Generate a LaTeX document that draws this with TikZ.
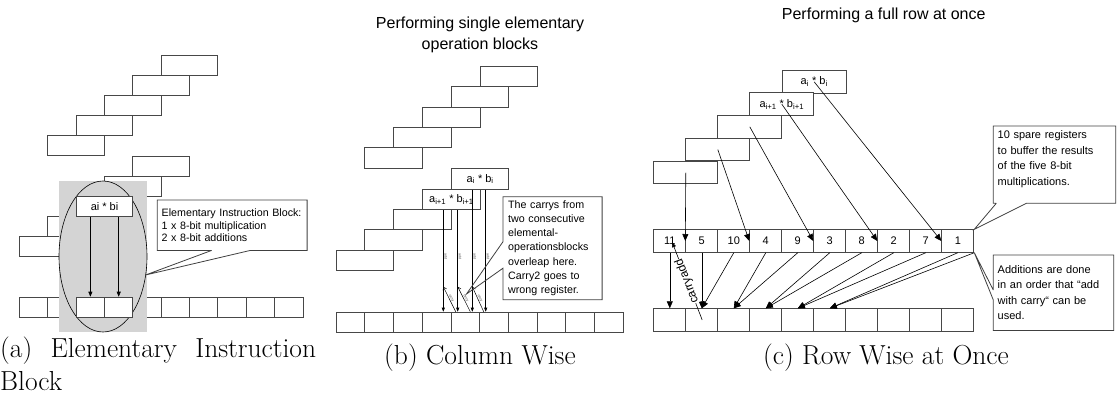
\documentclass[tikz,border=0pt]{standalone}
\usepackage{fontspec}
\newfontfamily\lab{Liberation Sans}
\usetikzlibrary{arrows.meta,calc}
\begin{document}
\begin{tikzpicture}[x=1pt,y=-1pt,
  box/.style={draw=black!72, line width=1pt, fill=white, inner sep=0pt, anchor=north west,
    font=\lab\fontsize{11}{12}\selectfont},
  boxa/.style={box, minimum width=56.7pt, minimum height=20pt},
  boxb/.style={box, minimum width=57.3pt, minimum height=20.3pt},
  boxc/.style={box, minimum width=64pt, minimum height=22.7pt},
  cella/.style={box, minimum width=28.35pt, minimum height=20pt},
  cellb/.style={box, minimum width=28.7pt, minimum height=20pt},
  cellc/.style={box, minimum width=32pt, minimum height=22.4pt},
  note/.style={anchor=north west, inner xsep=4.2pt, inner ysep=0pt, align=left, font=\lab\fontsize{10.7}{12.5}\selectfont},
  calloutline/.style={draw=black!75, line width=0.8pt},
  arra/.style={draw=black, line width=0.6pt, -{Triangle[length=5pt,width=4pt]}},
  arrb/.style={draw=black, line width=0.6pt, -{Triangle[length=4pt,width=3pt]}},
  carrow/.style={draw=black, line width=0.5pt, -{Straight Barb[length=3pt,width=4pt]}},
  arrc/.style={draw=black, line width=0.6pt, -{Triangle[length=7pt,width=6pt]}},
  tinylab/.style={font=\lab\fontsize{3.5}{4}\selectfont, text=black!70, inner sep=0pt},
  captxt/.style={font=\fontsize{27.5}{32}\selectfont, inner sep=0pt},
  ttl/.style={font=\lab\fontsize{16}{21}\selectfont, align=center, inner sep=0pt}]
\useasboundingbox (0,0) rectangle (1120,400);

% ---------------- (a) elementary instruction block ----------------
\foreach \i/\x/\y in {1/160.7/55, 2/132.3/75, 3/104/95, 4/75.7/115, 5/47.3/135}
  \node[boxa] (au\i) at (\x,\y) {};
\foreach \i/\x/\y in {1/132.3/156, 2/104/176, 4/47.3/216, 5/19/236}
  \node[boxa] (al\i) at (\x,\y) {};
\foreach \i in {1,...,10}
  \node[cella] (ra\i) at ({19+28.35*(\i-1)},296.7) {};
\fill[black!17] (59,181) rectangle (147,332);
\draw[line width=0.6pt] (103,256.5) ellipse [x radius=44pt, y radius=75.5pt];
\node[cella] (rx3) at (ra3.north west) {};
\node[cella] (rx4) at (ra4.north west) {};
\node[boxa] (al3) at (75.7,196) {ai * bi};
\draw[arra] (al3.south -| rx3.center) -- (rx3.north);
\draw[arra] (al3.south -| rx4.center) -- (rx4.north);

\node[note, text width=141pt, minimum height=50pt] (ca) at (157.3,200)
  {Elementary Instruction Block:\\1 x 8-bit multiplication\\2 x 8-bit additions};
\coordinate (ta) at (145.5,275);
\draw[calloutline] ($(ca.south west)+(54.4,0)$) -- (ca.south west) -- (ca.north west) -- (ca.north east)
  -- (ca.south east) -- ($(ca.south east)+(-56.7,0)$) -- (ta) -- ($(ca.south west)+(54.4,0)$);

\node[captxt, anchor=base west] (capa) at (0,357) {\makebox[316pt][s]{(a) Elementary Instruction}};
\node[captxt, anchor=base west] (capa2) at (0,390) {Block};

% ---------------- (b) column wise ----------------
\node[ttl] (tb) at (480,34.5) {Performing single elementary\\operation blocks};
\foreach \i/\x/\y in {1/480/66, 2/451/86.3, 3/422.3/106.7, 4/393.3/127, 5/364.3/147.3}
  \node[boxb] (bu\i) at (\x,\y) {};
\foreach \i/\x/\y in {3/393.3/209, 4/364.3/229.3, 5/335.7/249.7}
  \node[boxb] (bl\i) at (\x,\y) {};
\node[boxb] (bl1) at (451,168.3) {a\textsubscript{i} * b\textsubscript{i}};
\node[boxb] (bl2) at (422.3,188.7) {a\textsubscript{i+1} * b\textsubscript{i+1}};
\foreach \i in {1,...,10}
  \node[cellb] (rb\i) at ({335.7+28.7*(\i-1)},311.7) {};

\coordinate (v1) at ($(bl2.south west)+(21,0)$);
\coordinate (v2) at ($(bl2.south west)+(35.4,0)$);
\coordinate (v3) at ($(bl1.south west)+(21.3,0)$);
\coordinate (v4) at ($(bl1.south west)+(34.7,0)$);
\foreach \v in {v1,v2,v3,v4}{
  \draw[arrb] (\v) -- (\v |- rb4.north);
  \node[tinylab, rotate=-90] at ($(\v |- rb4.north)+(2.5,-55)$) {add};
}
\foreach \a/\b in {v1/v2, v2/v3, v3/v4}
  \draw[carrow] ($(\b |- rb4.north)+(-2,0)$) -- ($(\a |- rb4.north)+(0,-25)$)
    node[tinylab, midway, sloped, above=0.3pt] {carry};

\node[note, inner xsep=5pt, text width=88.7pt, minimum height=102.6pt,
  font=\lab\fontsize{10.7}{14.2}\selectfont] (cb) at (503,196.7)
  {The carrys from\\two consecutive\\elemental-\\operationsblocks\\overleap here.\\Carry2 goes to\\wrong register.};
\coordinate (tbp) at (466.5,294);
\draw[calloutline] ($(cb.north west)+(0,45)$) -- (cb.north west) -- (cb.north east) -- (cb.south east)
  -- (cb.south west) -- ($(cb.north west)+(0,71.5)$) -- (tbp) -- ($(cb.north west)+(0,45)$);

\node[captxt, anchor=base] (capb) at (480,364) {(b) Column Wise};

% ---------------- (c) row wise at once ----------------
\node[ttl, anchor=west] (tc) at (781.7,15) {Performing a full row at once};
\foreach \i/\x/\y in {3/717.3/115, 4/685.3/137.7, 5/653.3/160.7}
  \node[boxc] (bc\i) at (\x,\y) {};
\node[boxc] (bc1) at (781.7,70) {a\textsubscript{i} * b\textsubscript{i}};
\node[boxc] (bc2) at (749.3,92.3) {a\textsubscript{i+1} * b\textsubscript{i+1}};
\foreach \i/\t in {1/11, 2/5, 3/10, 4/4, 5/9, 6/3, 7/8, 8/2, 9/7, 10/1}
  \node[cellc] (m\i) at ({653.3+32*(\i-1)},229.3) {\t};
\foreach \i in {1,...,10}
  \node[cellc] (n\i) at ({653.3+32*(\i-1)},308.3) {};

\draw[arrc] (bc1.center) -- (m10.west);
\draw[arrc] (bc2.center) -- (m8.west);
\draw[arrc] (bc3.center) -- (m6.west);
\draw[arrc] (bc4.center) -- (m4.west);
\draw[arrc] (bc5.center) -- (m2.west);

\draw[arrc] (m1.south) -- (n1.north);
\draw[arrc] (m2.south) -- (n2.north);
\draw[arrc] (m3.south) -- (n2.north);
\draw[arrc] (m4.south) -- (n3.north);
\draw[arrc] (m5.south) -- (n3.north);
\draw[arrc] (m6.south) -- (n4.north);
\draw[arrc] (m7.south) -- (n4.north);
\draw[arrc] (m8.south) -- (n5.north);
\draw[arrc] (m9.south) -- (n5.north);
\draw[arrc] (m10.south) -- (n6.north);
\draw[arrc] (m10.south east) -- (n6.north);
\coordinate (ct) at ($(n2.north)+(0.4,11.7)$);
\draw[draw=black, line width=0.6pt, -{Triangle[length=5pt,width=4pt]}] (ct) -- ($(m1.center)+(2.4,1.2)$)
  node[midway, sloped, allow upside down, font=\lab\fontsize{12}{13}\selectfont, fill=white, inner sep=0.3pt] {carryadd};

% callout with the text set near its top edge
\coordinate (c1nw) at (993.3,126);
\coordinate (c1se) at (1115.7,203.3);
\node[note, text width=112pt, font=\lab\fontsize{11}{15.5}\selectfont] (cc1) at ($(c1nw)+(0,4.5)$)
  {10 spare registers\\to buffer the results\\of the five 8-bit\\multiplications.};
\draw[calloutline] ($(c1nw |- c1se)+(3,0)$) -- (c1nw |- c1se) -- (c1nw) -- (c1nw -| c1se)
  -- (c1se) -- ($(c1nw |- c1se)+(33,0)$) -- (m10.north east) -- ($(c1nw |- c1se)+(3,0)$);

\node[note, text width=111.7pt, minimum height=75pt,
  font=\lab\fontsize{11}{15.5}\selectfont] (cc2) at (993.3,255)
  {Additions are done\\in an order that “add\\with carry“ can be\\used.};
\draw[calloutline] ($(cc2.north west)+(0,35)$) -- (cc2.north west) -- (cc2.north east) -- (cc2.south east)
  -- (cc2.south west) -- ($(cc2.north west)+(0,45)$) -- (m10.south east) -- ($(cc2.north west)+(0,35)$);

\node[captxt, anchor=base west] (capc) at (763,364) {(c) Row Wise at Once};
\end{tikzpicture}
\end{document}
